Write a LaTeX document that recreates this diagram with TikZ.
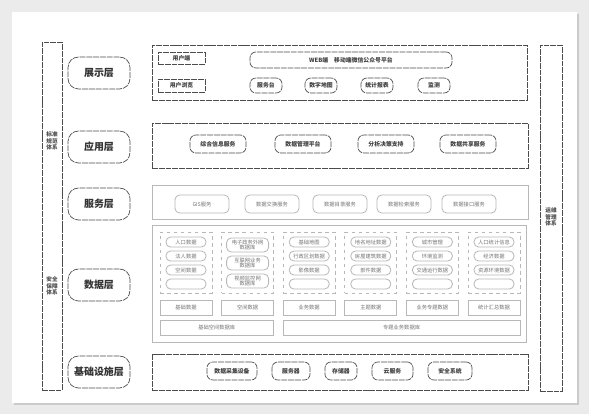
\documentclass[tikz,border=0pt]{standalone}
\usepackage{fontspec}
\setmainfont{Noto Sans CJK SC}
\usetikzlibrary{positioning,shadows}

\def\unitpx{0.03cm}
% node on the box (x1,y1)-(x2,y2), pixel units
\newcommand{\boxnode}[7][]{%
  \node[#1, minimum width={((#5)-(#3))*\unitpx}, minimum height={((#6)-(#4))*\unitpx}]
    (#2) at ({((#3)+(#5))/2},{((#4)+(#6))/2}) {#7};}

\tikzset{
  sketch/.style={draw=black!70, dash pattern=on 5pt off 0.8pt, line width=0.6pt},
  faint/.style={draw=black!28, line width=0.7pt},
  layerlabel/.style={sketch, rounded corners=9pt, inner sep=0pt,
    font=\fontsize{8.5}{9}\selectfont\bfseries, text=black!80},
  frame/.style={sketch, inner sep=0pt},
  lightframe/.style={faint, inner sep=0pt},
  tag/.style={sketch, inner sep=0pt, font=\fontsize{5}{6}\selectfont\bfseries, text=black!75},
  pill/.style={sketch, rounded corners=5pt, inner sep=0pt,
    font=\fontsize{5}{6}\selectfont\bfseries, text=black!75},
  lightpill/.style={faint, rounded corners=4pt, inner sep=0pt, align=center,
    font=\fontsize{4.5}{5}\selectfont, text=black!55},
  cell/.style={faint, inner sep=0pt, font=\fontsize{4.5}{5}\selectfont, text=black!55},
  sidelabel/.style={font=\fontsize{4.8}{5.6}\selectfont\bfseries, text=black!70,
    align=center, inner sep=0pt},
}

\begin{document}
\begin{tikzpicture}[x=\unitpx, y=-\unitpx]
  % page and card
  \useasboundingbox (0,0) rectangle (589,414);
  \fill[black!8] (0,0) rectangle (589,414);
  \boxnode[fill=white, drop shadow={shadow xshift=1.5pt, shadow yshift=-1.5pt, opacity=0.3}]{card}{12}{12}{577}{403}{}

  % side systems
  \boxnode[frame]{stdbox}{42}{42}{62}{390}{}
  \node[sidelabel] (std) at (52,141) {标准\\规范\\体系};
  \node[sidelabel] (safe) at (52,286) {安全\\保障\\体系};
  \boxnode[frame]{opsbox}{540}{45}{562}{391}{}
  \node[sidelabel] (ops) at (551,217) {运维\\管理\\体系};

  % layer labels
  \foreach \y/\name/\txt in {73/show/展示层, 147/app/应用层, 204/svc/服务层, 285/data/数据层, 372/infra/基础设施层}
  {
    \boxnode[layerlabel]{lbl\name}{68}{\y-16}{130}{\y+16}{\txt}
  }

  % presentation layer
  \boxnode[frame]{showframe}{152}{45}{527}{100}{}
  \boxnode[tag]{client}{158}{52}{205}{64}{用户端}
  \boxnode[tag]{browse}{158}{79}{205}{92}{用户浏览}
  \boxnode[pill]{portal}{250}{52}{452}{68}{WEB端\quad 移动端微信公众号平台}
  \foreach \x/\n/\txt in {250/a/服务台, 305/b/数字地图, 361/c/统计报表, 418/d/监测}
  {
    \boxnode[pill]{show\n}{\x}{78}{\x+32}{93}{\txt}
  }

  % application layer
  \boxnode[frame]{appframe}{152}{123}{528}{168}{}
  \foreach \x/\n/\txt in {190/a/综合信息服务, 275/b/数据管理平台, 358/c/分析决策支持, 440/d/数据共享服务}
  {
    \boxnode[pill]{app\n}{\x}{135}{\x+56}{153}{\txt}
  }

  % service layer
  \boxnode[lightframe]{svcframe}{152}{185}{528}{219}{}
  \foreach \x/\n/\txt in {175/a/GIS服务, 245/b/数据交换服务, 313/c/数据目录服务, 377/d/数据检索服务, 442/e/数据接口服务}
  {
    \boxnode[lightpill]{svc\n}{\x}{195}{\x+54}{213}{\txt}
  }

  % data layer
  \boxnode[lightframe]{dataframe}{152}{225}{526}{342}{}
  \foreach \i/\ta/\tb/\tc/\td in {0/人口数据/法人数据/空间数据/基础数据,
      2/基础地图/行政区划数据/影像数据/业务数据,
      3/地名地址数据/房屋建筑数据/部件数据/主题数据,
      4/城市管理/环境监测/交通运行数据/业务专题数据,
      5/人口统计信息/经济数据/资源环境数据/统计汇总数据}
  {
    \pgfmathsetmacro\x{160+61.6*\i}
    \boxnode[lightframe, dashed]{col\i}{\x}{232}{\x+52}{293}{}
    \foreach \r/\t in {0/\ta, 1/\tb, 2/\tc, 3/{}}
    {
      \boxnode[lightpill]{col\i-\r}{\x+6}{237+14*\r}{\x+46}{247+14*\r}{\t}
    }
    \boxnode[cell]{sum\i}{\x}{300}{\x+52}{315}{\td}
  }
  % second column: two-line items
  \boxnode[lightframe, dashed]{col1}{221.6}{232}{273.6}{293}{}
  \foreach \r/\t in {0/电子政务外网, 1/互联网业务, 2/视频监控网}
  {
    \boxnode[lightpill]{col1-\r}{226.6}{238+18*\r}{268.6}{252+18*\r}{\t\\数据库}
  }
  \boxnode[cell]{sum1}{221.6}{300}{273.6}{315}{空间数据}
  \boxnode[cell]{basedb}{160}{320}{273.6}{335}{基础空间数据库}
  \boxnode[cell]{topicdb}{283.2}{320}{520}{335}{专题业务数据库}

  % infrastructure layer
  \boxnode[frame]{infraframe}{152}{354}{528}{390}{}
  \foreach \x/\w/\n/\txt in {207/50/a/数据采集设备, 272/38/b/服务器, 325/32/c/存储器, 372/41/d/云服务, 428/44/e/安全系统}
  {
    \boxnode[pill]{infra\n}{\x}{362}{\x+\w}{380}{\txt}
  }
\end{tikzpicture}
\end{document}
